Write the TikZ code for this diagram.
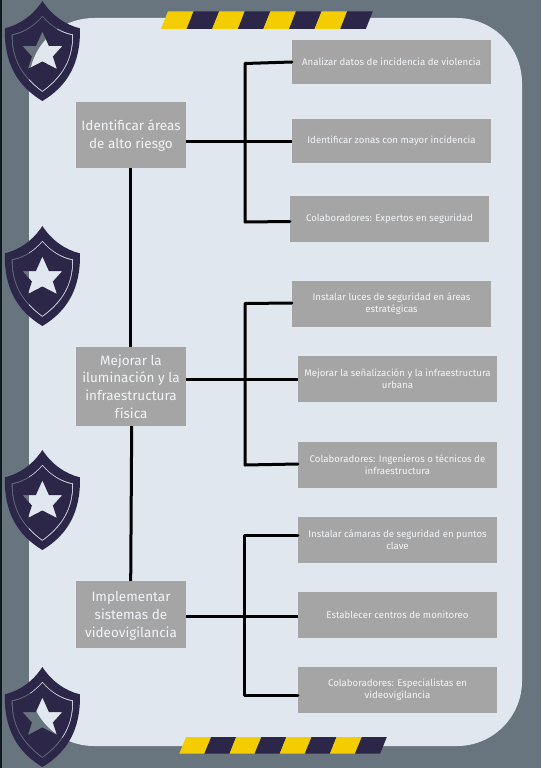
\documentclass[tikz,border=0pt]{standalone}
\usepackage{fontspec}
\setmainfont{Fira Sans}
\definecolor{slate}{HTML}{68747E}
\definecolor{edge}{HTML}{0F1A20}
\definecolor{panelc}{HTML}{E0E7EE}
\definecolor{boxc}{HTML}{A5A5A5}
\definecolor{navy}{HTML}{2C2648}
\definecolor{amber}{HTML}{F4CD00}
\definecolor{inkc}{HTML}{F2F5F8}
\tikzset{
  main/.style={fill=boxc,text=inkc,inner sep=0pt,align=center,minimum width=110pt,font=\fontsize{13.5}{17.7}\selectfont},
  sub/.style={fill=boxc,text=inkc,inner sep=0pt,align=center,font=\fontsize{9.65}{12}\selectfont,minimum width=199pt},
  link/.style={line width=3pt,black,line cap=round,line join=round},
  straightlink/.style={link,line cap=butt}
}
\newcommand{\shield}[1]{%
  \begin{scope}[shift={(42.4,#1)}]
    \fill[navy,even odd rule]
      (0,0) .. controls (-9,14) and (-23,24) .. (-37.5,27.3)
        .. controls (-38.5,62) and (-25,85) .. (0,100)
        .. controls (25,85) and (38.5,62) .. (37.5,27.3)
        .. controls (23,24) and (9,14) .. (0,0) -- cycle
      (0,14.6) .. controls (-8,24) and (-18,31) .. (-30.8,33.4)
        .. controls (-31,58) and (-21,76) .. (0,91)
        .. controls (21,76) and (31,58) .. (30.8,33.4)
        .. controls (18,31) and (8,24) .. (0,14.6) -- cycle
      (0,16) .. controls (-8,25) and (-18,32) .. (-29.8,34.2)
        .. controls (-30,58) and (-20,75) .. (0,89.8)
        .. controls (20,75) and (30,58) .. (29.8,34.2)
        .. controls (18,32) and (8,25) .. (0,16) -- cycle
      (0,30.5) -- (6.5,45) -- (20,45) -- (10.5,55.5) -- (14.5,68) -- (0,60.5)
        -- (-14.5,68) -- (-10.5,55.5) -- (-20,45) -- (-6.5,45) -- cycle;
  \end{scope}}
\newcommand{\hazard}[5]{%
  \foreach \i in {0,...,7}{
    \pgfmathsetmacro{\xa}{#1+\i*#2}
    \pgfmathsetmacro{\xb}{#1+(\i+1)*#2}
    \pgfmathtruncatemacro{\odd}{mod(\i,2)}
    \ifnum\odd=0 \def\stripec{amber}\else\def\stripec{navy}\fi
    \fill[\stripec] (\xa,#5) -- ({\xa+#3},#4) -- ({\xb+#3},#4) -- (\xb,#5) -- cycle;
  }}
\begin{document}
\begin{tikzpicture}[x=1pt,y=-1pt]
\useasboundingbox (0,0) rectangle (541,768);
\fill[slate] (0,0) rectangle (541,768);
\fill[edge] (0,0) rectangle (2,768);
\fill[panelc,rounded corners=65pt] (29,18) rectangle (522,746);
\hazard{161}{25.6}{7}{11.3}{29}
\hazard{179.3}{25.1}{6.7}{737}{753.7}
\shield{1}\shield{226}\shield{450}\shield{667}

\node[main,minimum height=66pt] (a) at (131,135) {\rule{0pt}{12pt}Identificar áreas\\de alto riesgo};
\node[main,minimum height=79pt] (b) at (131,386.5) {Mejorar la\\iluminación y la\\infraestructura\\física};
\node[main,minimum height=67pt] (c) at (131,614.5) {\rule{0pt}{13pt}Implementar\\sistemas de\\videovigilancia};

\node[sub,minimum height=44pt] (a1) at (391.5,62) {Analizar datos de incidencia de violencia};
\node[sub,minimum height=44pt] (a2) at (391.5,141) {Identificar zonas con mayor incidencia};
\node[sub,minimum height=46pt] (a3) at (389.5,219) {Colaboradores: Expertos en seguridad};
\node[sub,minimum height=46pt] (b1) at (391.5,304) {Instalar luces de seguridad en áreas\\estratégicas};
\node[sub,minimum height=46pt] (b2) at (397.5,379) {Mejorar la señalización y la infraestructura\\urbana};
\node[sub,minimum height=46pt] (b3) at (397.5,465) {Colaboradores: Ingenieros o técnicos de\\infraestructura};
\node[sub,minimum height=46pt] (c1) at (397.5,540) {Instalar cámaras de seguridad en puntos\\clave};
\node[sub,minimum height=46pt] (c2) at (397.5,615) {Establecer centros de monitoreo};
\node[sub,minimum height=46pt] (c3) at (397.5,690) {Colaboradores: Especialistas en\\videovigilancia};

\draw[straightlink] (a.south -| 130.5,0) -- (b.north -| 130.5,0);
\draw[straightlink] (b.south -| 131.7,0) -- (c.north -| 130.7,0);

\draw[straightlink] (a.east |- 0,141) -- (a2.west);
\draw[link] (a1.west) -- (245,63.5) -- (245,222) -- (a3.west |- 0,221.5);

\draw[straightlink] (b.east |- 0,379) -- (b2.west);
\draw[link] (b1.west |- 0,303) -- (245,303.5) -- (245,465) -- (b3.west |- 0,464);

\draw[straightlink] (c.east |- 0,616) -- (c2.west |- 0,616);
\draw[link] (c1.west |- 0,535) -- (244,535) -- (244,695) -- (c3.west |- 0,695);
\end{tikzpicture}
\end{document}
